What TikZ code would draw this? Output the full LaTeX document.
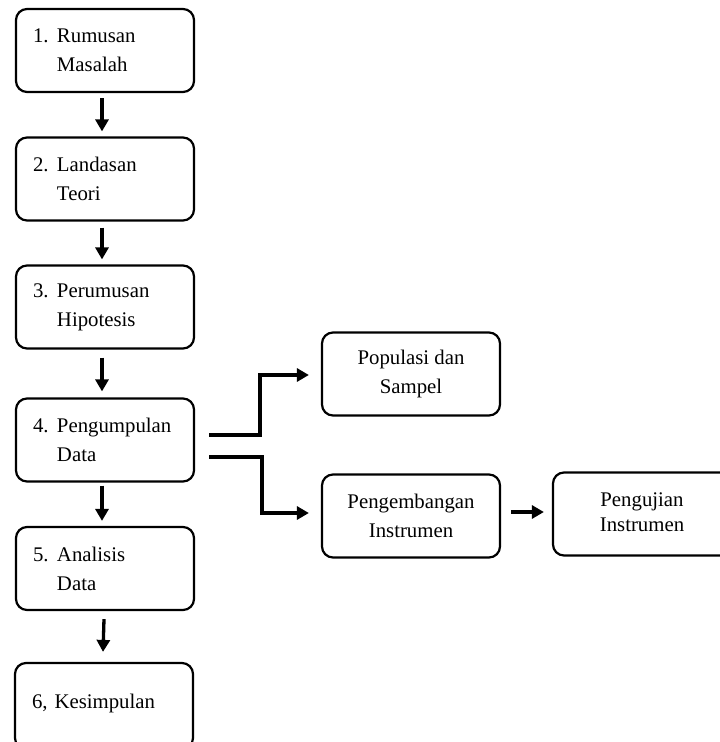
\documentclass[tikz,border=0pt]{standalone}
\usepackage{fontspec}
\setmainfont{Liberation Serif}
\usetikzlibrary{arrows.meta,calc}
\newcommand\numlab[1]{\makebox[24pt][l]{#1}}
\begin{document}
\begin{tikzpicture}[x=1pt,y=-1pt,
  box/.style={draw, line width=2.2pt, rounded corners=11pt, minimum width=178pt, minimum height=83pt, inner sep=0pt},
  lbox/.style={box, text width=144pt, align=left},
  cbox/.style={box, align=center},
  arr/.style={line width=3.3pt, -{Triangle[length=12pt,width=13pt]}},
  font=\fontsize{20.8}{29}\selectfont]
\clip (0,0) rectangle (720,742);
% left column
\node[lbox] (b1) at (105,50.5) {\numlab{1.}Rumusan\\\hspace*{24pt}Masalah};
\node[lbox] (b2) at (105,179) {\numlab{2.}Landasan\\\hspace*{24pt}Teori};
\node[lbox] (b3) at (105,307) {\numlab{3.}Perumusan\\\hspace*{24pt}Hipotesis};
\node[lbox] (b4) at (105,440) {\numlab{4.}Pengumpulan\\\hspace*{24pt}Data};
\node[lbox] (b5) at (105,568.5) {\numlab{5.}Analisis\\\hspace*{24pt}Data};
\node[lbox, minimum height=86pt] (b6) at (104,706) {\raisebox{9pt}{6, Kesimpulan}};
% right side
\node[cbox] (pop) at (411,374) {Populasi dan\\Sampel};
\node[cbox] (peng) at (411,516) {Pengembangan\\Instrumen};
\node[cbox, font=\fontsize{20.8}{25}\selectfont] (uji) at (642,514) {\raisebox{3pt}{Pengujian}\\\raisebox{3pt}{Instrumen}};
% vertical arrows
\draw[arr] ([xshift=-3pt,yshift=-5pt]b1.south) -- ([xshift=-3pt,yshift=5pt]b2.north);
\draw[arr] ([xshift=-3pt,yshift=-6pt]b2.south) -- ([xshift=-3pt,yshift=5pt]b3.north);
\draw[arr] ([xshift=-3pt,yshift=-8pt]b3.south) -- ([xshift=-3pt,yshift=6pt]b4.north);
\draw[arr] ([xshift=-3pt,yshift=-3pt]b4.south) -- ([xshift=-3pt,yshift=5pt]b5.north);
\draw[arr] ([xshift=-1pt,yshift=-8pt]b5.south) -- ([xshift=-1pt,yshift=10pt]b6.north);
% branches
\coordinate (s1) at ($(b4.east)+(14,-5)$);
\coordinate (s2) at ($(b4.east)+(14,17)$);
\draw[arr, shorten >=12pt] (s1) -- ++(51,0) |- ([yshift=-1pt]pop.west);
\draw[arr, shorten >=12pt] (s2) -- ++(53,0) |- ([yshift=3pt]peng.west);
\draw[arr] ([xshift=10pt,yshift=4pt]peng.east) -- ([xshift=-8pt,yshift=4pt]peng.east -| uji.west);
\end{tikzpicture}
\end{document}
